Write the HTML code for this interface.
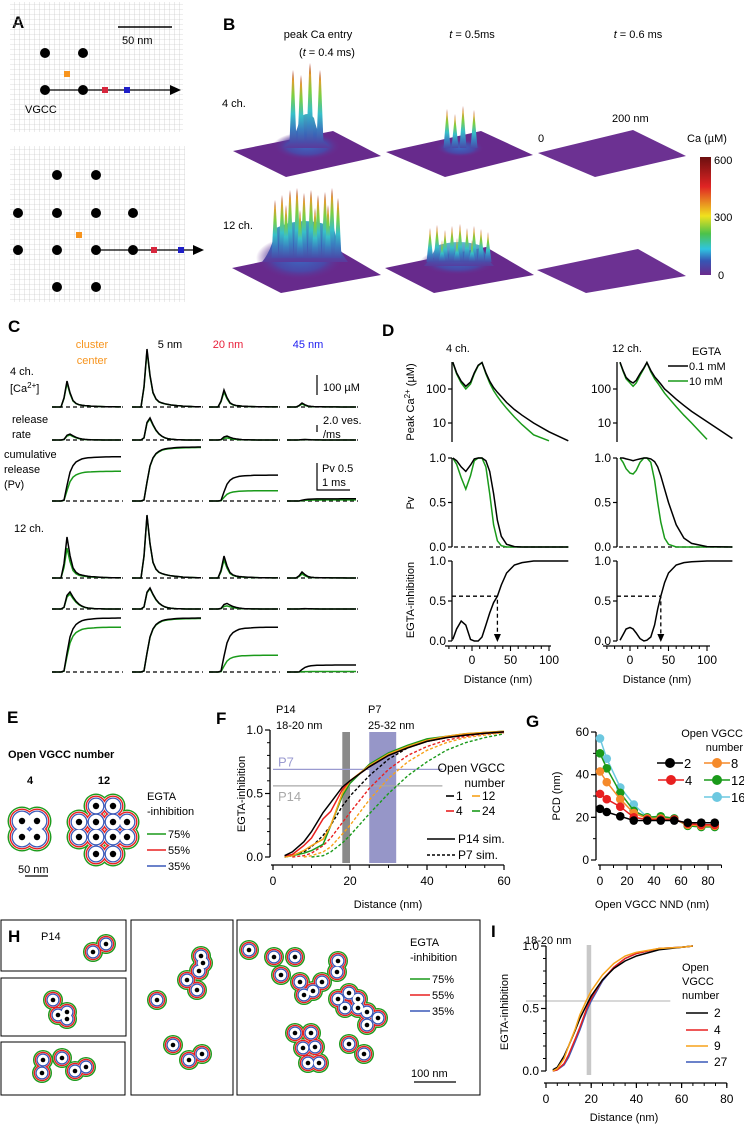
<!DOCTYPE html>
<html><head><meta charset="utf-8">
<style>
html,body{margin:0;padding:0;background:#fff;}
svg{display:block;font-family:"Liberation Sans",Arial,sans-serif;}
.t{font-size:11px;fill:#000;}
.L{font-size:17px;font-weight:bold;fill:#000;}
</style></head>
<body>
<svg id="fig" width="744" height="1125" viewBox="0 0 744 1125" xmlns="http://www.w3.org/2000/svg">
<defs>
<pattern id="grid" width="5" height="5" patternUnits="userSpaceOnUse"><path d="M5 0V5M0 5H5" stroke="#bdbdbd" stroke-width="0.6" fill="none"/></pattern>
<linearGradient id="cb" x1="0" y1="0" x2="0" y2="1">
<stop offset="0" stop-color="#6b0f0f"/><stop offset="0.25" stop-color="#e02424"/><stop offset="0.5" stop-color="#f0e21e"/><stop offset="0.65" stop-color="#4cc24a"/><stop offset="0.78" stop-color="#2fc4e0"/><stop offset="0.88" stop-color="#3656b4"/><stop offset="1" stop-color="#6b2a8c"/></linearGradient>
<linearGradient id="spk" x1="0" y1="1" x2="0" y2="0">
<stop offset="0" stop-color="#4a4aa8"/><stop offset="0.2" stop-color="#3a7fc0"/><stop offset="0.4" stop-color="#38c0c8"/><stop offset="0.65" stop-color="#7cd040"/><stop offset="0.85" stop-color="#e0a030"/><stop offset="1" stop-color="#a02020"/></linearGradient>
<linearGradient id="mb" x1="0" y1="1" x2="0" y2="0">
<stop offset="0" stop-color="#5a3a9c"/><stop offset="0.4" stop-color="#3a64b8"/><stop offset="1" stop-color="#40b0c0"/></linearGradient>
<radialGradient id="mound"><stop offset="0" stop-color="#3c68c0"/><stop offset="0.6" stop-color="#4a48a8"/><stop offset="1" stop-color="#6b2a8c" stop-opacity="0"/></radialGradient>
</defs>
<rect x="0" y="0" width="744" height="1125" fill="#fff"/>

<g>
<text class="L" x="12" y="28">A</text>
<rect x="10" y="2" width="173" height="130" fill="url(#grid)"/>
<rect x="10" y="146" width="175" height="156" fill="url(#grid)"/>
<line x1="118" y1="27" x2="172" y2="27" stroke="#000" stroke-width="1.5"/>
<text class="t" x="122" y="44" font-size="12">50 nm</text>
<g fill="#000">
<circle cx="45" cy="53" r="5"/><circle cx="83" cy="53" r="5"/><circle cx="45" cy="90" r="5"/><circle cx="83" cy="90" r="5"/></g>
<line x1="45" y1="90" x2="172" y2="90" stroke="#000" stroke-width="1.2"/>
<polygon points="170,85 181,90 170,95" fill="#000"/>
<rect x="64" y="71" width="6" height="6" fill="#f7941d"/>
<rect x="102" y="87" width="6" height="6" fill="#d7263d"/>
<rect x="124" y="87" width="6" height="6" fill="#1f1fc8"/>
<text class="t" x="25" y="113" font-size="12">VGCC</text>
<g fill="#000">
<circle cx="57" cy="175" r="5"/><circle cx="96" cy="175" r="5"/>
<circle cx="18" cy="213" r="5"/><circle cx="57" cy="213" r="5"/><circle cx="96" cy="213" r="5"/><circle cx="133" cy="213" r="5"/>
<circle cx="18" cy="250" r="5"/><circle cx="57" cy="250" r="5"/><circle cx="96" cy="250" r="5"/><circle cx="133" cy="250" r="5"/>
<circle cx="57" cy="287" r="5"/><circle cx="96" cy="287" r="5"/></g>
<line x1="96" y1="250" x2="195" y2="250" stroke="#000" stroke-width="1.2"/>
<polygon points="193,245 204,250 193,255" fill="#000"/>
<rect x="76" y="232" width="6" height="6" fill="#f7941d"/>
<rect x="151" y="247" width="6" height="6" fill="#d7263d"/>
<rect x="178" y="247" width="6" height="6" fill="#1f1fc8"/>
</g>

<g>
<text class="L" x="223" y="30">B</text>
<text class="t" x="318" y="38" text-anchor="middle" font-size="12">peak Ca entry</text>
<text class="t" x="327" y="56" text-anchor="middle" font-size="12">(<tspan font-style="italic">t</tspan> = 0.4 ms)</text>
<text class="t" x="472" y="38" text-anchor="middle" font-size="12"><tspan font-style="italic">t</tspan> = 0.5ms</text>
<text class="t" x="638" y="38" text-anchor="middle" font-size="12"><tspan font-style="italic">t</tspan> = 0.6 ms</text>
<text class="t" x="222" y="107" font-size="13">4 ch.</text>
<text class="t" x="223" y="229" font-size="13">12 ch.</text>
<text class="t" x="538" y="142" font-size="12">0</text>
<text class="t" x="612" y="122" font-size="12">200 nm</text>
<text class="t" x="687" y="142" font-size="12">Ca (µM)</text>
<rect x="700" y="157" width="11" height="118" fill="url(#cb)"/>
<text class="t" x="714" y="164" font-size="12">600</text>
<text class="t" x="714" y="221" font-size="12">300</text>
<text class="t" x="718" y="279" font-size="12">0</text>
<g id="surfaces"></g>
</g>

<g>
<text class="L" x="8" y="332">C</text>
<text class="t" x="92" y="348" text-anchor="middle" font-size="12" style="fill:#f7941d">cluster</text>
<text class="t" x="92" y="364" text-anchor="middle" font-size="12" style="fill:#f7941d">center</text>
<text class="t" x="170" y="348" text-anchor="middle" font-size="12">5 nm</text>
<text class="t" x="228" y="348" text-anchor="middle" font-size="12" style="fill:#e8203a">20 nm</text>
<text class="t" x="308" y="348" text-anchor="middle" font-size="12" style="fill:#1c1cf0">45 nm</text>
<text class="t" x="10" y="375" font-size="12">4 ch.</text>
<text class="t" x="10" y="392" font-size="12">[Ca<tspan font-size="8" dy="-4">2+</tspan><tspan dy="4">]</tspan></text>
<text class="t" x="12" y="423" font-size="12">release</text>
<text class="t" x="12" y="438" font-size="12">rate</text>
<text class="t" x="4" y="458" font-size="12">cumulative</text>
<text class="t" x="4" y="473" font-size="12">release</text>
<text class="t" x="4" y="488" font-size="12">(Pv)</text>
<text class="t" x="14" y="532" font-size="12">12 ch.</text>
<line x1="317" y1="375" x2="317" y2="395" stroke="#000" stroke-width="1.2"/>
<text class="t" x="323" y="391" font-size="12">100 µM</text>
<line x1="317" y1="425" x2="317" y2="432" stroke="#000" stroke-width="1.2"/>
<text class="t" x="323" y="424" font-size="12">2.0 ves.</text>
<text class="t" x="323" y="438" font-size="12">/ms</text>
<polyline points="317,463 317,490 350,490" fill="none" stroke="#000" stroke-width="1.2"/>
<text class="t" x="322" y="472" font-size="12">Pv 0.5</text>
<text class="t" x="322" y="486" font-size="12">1 ms</text>
</g>
<g id="pc"></g>

<g>
<text class="L" x="382" y="336">D</text>
<text class="t" x="446" y="352" font-size="12">4 ch.</text>
<text class="t" x="612" y="352" font-size="12">12 ch.</text>
<text class="t" x="692" y="355" font-size="12">EGTA</text>
<line x1="668" y1="366" x2="688" y2="366" stroke="#000" stroke-width="1.5"/>
<text class="t" x="689" y="370" font-size="12">0.1 mM</text>
<line x1="668" y1="381" x2="688" y2="381" stroke="#1a9a1a" stroke-width="1.5"/>
<text class="t" x="689" y="385" font-size="12">10 mM</text>
<text class="t" transform="translate(414,402) rotate(-90)" text-anchor="middle" font-size="12">Peak Ca<tspan font-size="8" dy="-4">2+</tspan><tspan dy="4"> (µM)</tspan></text>
<text class="t" transform="translate(414,503) rotate(-90)" text-anchor="middle" font-size="12">Pv</text>
<text class="t" transform="translate(414,600) rotate(-90)" text-anchor="middle" font-size="12">EGTA-inhibition</text>
<text class="t" x="498" y="683" text-anchor="middle" font-size="12">Distance (nm)</text>
<text class="t" x="657" y="683" text-anchor="middle" font-size="12">Distance (nm)</text>
</g>
<g id="pd"></g>

<g>
<text class="L" x="7" y="723">E</text>
<text class="t" x="8" y="758" font-size="12" font-weight="bold">Open VGCC number</text>
<text class="t" x="30" y="784" font-size="12" font-weight="bold" text-anchor="middle">4</text>
<text class="t" x="104" y="784" font-size="12" font-weight="bold" text-anchor="middle">12</text>
<g id="eclusters"></g>
<text class="t" x="147" y="800" font-size="12">EGTA</text>
<text class="t" x="147" y="815" font-size="12">-inhibition</text>
<line x1="147" y1="834" x2="166" y2="834" stroke="#1a9a1a" stroke-width="1.5"/>
<text class="t" x="168" y="838" font-size="12">75%</text>
<line x1="147" y1="850" x2="166" y2="850" stroke="#e82020" stroke-width="1.5"/>
<text class="t" x="168" y="854" font-size="12">55%</text>
<line x1="147" y1="866" x2="166" y2="866" stroke="#3a58b8" stroke-width="1.5"/>
<text class="t" x="168" y="870" font-size="12">35%</text>
<text class="t" x="18" y="873" font-size="12">50 nm</text>
<line x1="25" y1="876" x2="48" y2="876" stroke="#000" stroke-width="1.3"/>
</g>

<g>
<text class="L" x="216" y="724">F</text>
<text class="t" x="276" y="713" font-size="12">P14</text>
<text class="t" x="276" y="729" font-size="12">18-20 nm</text>
<text class="t" x="368" y="713" font-size="12">P7</text>
<text class="t" x="368" y="729" font-size="12">25-32 nm</text>
<text class="t" transform="translate(245,794) rotate(-90)" text-anchor="middle" font-size="12">EGTA-inhibition</text>
<text class="t" x="388" y="908" text-anchor="middle" font-size="12">Distance (nm)</text>
</g>
<g id="pf"></g>

<g>
<text class="L" x="526" y="727">G</text>
<text class="t" transform="translate(560,796) rotate(-90)" text-anchor="middle" font-size="12">PCD (nm)</text>
<text class="t" x="652" y="908" text-anchor="middle" font-size="12">Open VGCC NND (nm)</text>
<text class="t" x="743" y="737" text-anchor="end" font-size="12">Open VGCC</text>
<text class="t" x="743" y="751" text-anchor="end" font-size="12">number</text>
</g>
<g id="pg"></g>

<g>
<g id="hclusters"></g>
<rect x="1" y="920" width="125" height="51" fill="none" stroke="#000" stroke-width="1"/>
<rect x="1" y="978" width="125" height="58" fill="none" stroke="#000" stroke-width="1"/>
<rect x="1" y="1042" width="124" height="53" fill="none" stroke="#000" stroke-width="1"/>
<rect x="131" y="920" width="102" height="175" fill="none" stroke="#000" stroke-width="1"/>
<rect x="237" y="920" width="243" height="175" fill="none" stroke="#000" stroke-width="1"/>
<text class="L" x="8" y="942">H</text>
<text class="t" x="41" y="940" font-size="12">P14</text>
<text class="t" x="410" y="946" font-size="12">EGTA</text>
<text class="t" x="410" y="961" font-size="12">-inhibition</text>
<line x1="410" y1="979" x2="430" y2="979" stroke="#1a9a1a" stroke-width="1.5"/>
<text class="t" x="432" y="983" font-size="12">75%</text>
<line x1="410" y1="995" x2="430" y2="995" stroke="#e82020" stroke-width="1.5"/>
<text class="t" x="432" y="999" font-size="12">55%</text>
<line x1="410" y1="1011" x2="430" y2="1011" stroke="#3a58b8" stroke-width="1.5"/>
<text class="t" x="432" y="1015" font-size="12">35%</text>
<text class="t" x="411" y="1077" font-size="12">100 nm</text>
<line x1="414" y1="1082" x2="456" y2="1082" stroke="#000" stroke-width="1.3"/>
</g>

<g>
<text class="L" x="491" y="937">I</text>
<text class="t" x="525" y="944" font-size="12">18-20 nm</text>
<text class="t" transform="translate(508,1012) rotate(-90)" text-anchor="middle" font-size="12">EGTA-inhibition</text>
<text class="t" x="624" y="1121" text-anchor="middle" font-size="12">Distance (nm)</text>
<text class="t" x="682" y="971" font-size="12">Open</text>
<text class="t" x="682" y="985" font-size="12">VGCC</text>
<text class="t" x="682" y="999" font-size="12">number</text>
</g>
<g id="pi"></g>
</svg>

<script>
// ---------- DATA ----------
const cShapeCa = [0,0,0,0,0.35,1,0.55,0.25,0.14,0.09,0.07,0.055,0.045,0.035,0.03,0.025,0.02,0.015,0.012,0.01,0.008,0.006,0.005,0.004];
const cShapeRate = [0,0,0,0,0.1,0.8,1,0.7,0.45,0.28,0.17,0.1,0.06,0.04,0.025,0.015,0.01,0.005,0,0,0,0,0,0];
const cShapeCum = [0,0,0,0,0.02,0.35,0.65,0.8,0.88,0.92,0.95,0.965,0.975,0.98,0.985,0.99,0.992,0.994,0.996,0.997,0.998,0.999,1,1];
const cColumns = ["cluster center","5 nm","20 nm","45 nm"];
const ca4Black = [130,290,85,20], ca4Green = [120,280,75,15];
const rate4Black = [1.7,6.3,1.1,0.15], rate4Green = [1.4,6.0,0.6,0.1];
const cum4Black = [0.82,1.0,0.48,0.04], cum4Green = [0.55,0.99,0.19,0.02];
const ca12Black = [205,315,110,30], ca12Green = [150,310,90,20];
const rate12Black = [4.9,6.0,1.6,0.1], rate12Green = [4.3,5.8,0.9,0.05];
const cum12Black = [1.0,1.0,0.83,0.13], cum12Green = [0.83,0.99,0.31,0.01];

const dDistL = [-25,-20,-14,-8,-2,3,8,13,18,23,28,33,38,45,55,65,80,100,125];
const dCaBlackL = [620,300,170,120,160,300,500,600,300,170,110,80,60,40,25,17,10,5.5,3];
const dCaGreenL = [600,280,150,100,140,280,480,600,280,150,90,60,42,27,15,9,4.5,3];
const dPvBlackL = [1,0.97,0.9,0.85,0.92,0.99,1,1,0.97,0.85,0.6,0.3,0.12,0.03,0.005,0,0,0,0];
const dPvGreenL = [1,0.93,0.78,0.65,0.8,0.97,1,1,0.9,0.6,0.25,0.07,0.015,0,0,0,0,0,0];
const dEgtaL = [0.02,0.15,0.25,0.2,0.02,0,0,0.05,0.2,0.35,0.48,0.56,0.7,0.85,0.95,0.98,1,1,1];
const dDistR = [-13,-9,-5,0,4,8,13,18,22,27,32,36,40,45,50,60,70,80,100,133];
const dCaBlackR = [620,350,220,170,150,180,280,420,600,350,230,180,140,100,80,50,33,22,11,3.5];
const dCaGreenR = [600,330,200,150,120,150,250,400,600,320,200,150,110,75,55,30,17,10,3.3];
const dPvBlackR = [1,1,0.99,0.98,0.97,0.98,0.99,1,1,0.99,0.96,0.9,0.8,0.65,0.5,0.25,0.1,0.04,0.005,0];
const dPvGreenR = [1,0.95,0.88,0.83,0.82,0.86,0.95,1,1,0.95,0.75,0.5,0.28,0.1,0.03,0,0,0,0,0];
const dEgtaR = [0.01,0.08,0.15,0.17,0.15,0.1,0.03,0,0.01,0.05,0.2,0.4,0.56,0.73,0.85,0.95,0.98,0.99,1,1];
const dHalfL = 33, dHalfR = 40, dHalfLevel = 0.56;
const dXTicks = [0,50,100];

const fDist = [3,5,8,10,13,15,18,20,25,30,35,40,45,50,55,60];
const fP14n1 = [0.01,0.04,0.12,0.2,0.35,0.43,0.55,0.6,0.71,0.8,0.86,0.91,0.94,0.96,0.975,0.985];
const fP14n4 = [0.01,0.02,0.09,0.15,0.3,0.36,0.53,0.6,0.71,0.8,0.86,0.91,0.94,0.96,0.975,0.985];
const fP14n12 = [0,0.01,0.05,0.09,0.14,0.25,0.5,0.6,0.72,0.81,0.87,0.92,0.95,0.97,0.98,0.99];
const fP14n24 = [0,0.01,0.03,0.05,0.1,0.25,0.48,0.58,0.73,0.82,0.88,0.93,0.95,0.97,0.98,0.99];
const fP7n1 = [0,0.01,0.04,0.08,0.17,0.25,0.4,0.48,0.64,0.77,0.86,0.91,0.94,0.96,0.975,0.985];
const fP7n4 = [0,0,0.01,0.03,0.09,0.15,0.27,0.35,0.54,0.69,0.8,0.87,0.92,0.95,0.97,0.98];
const fP7n12 = [0,0,0,0.01,0.04,0.08,0.18,0.25,0.45,0.62,0.75,0.84,0.9,0.94,0.96,0.98];
const fP7n24 = [0,0,0,0,0.01,0.04,0.11,0.17,0.34,0.5,0.64,0.75,0.84,0.9,0.94,0.97];
const fP14Band = [18,20], fP7Band = [25,32];
const fP7Level = 0.69, fP14Level = 0.56;
const fXTicks = [0,20,40,60], fYTicks = [0,0.5,1.0];

const gNND = [0,5,15,25,35,45,55,65,75,85];
const gN2 = [24,22.5,20.5,18.5,18.5,18.5,18.5,17.5,17.5,17.5];
const gN4 = [31,28.5,25,20,19,19,19,17,16.5,16.5];
const gN8 = [41.5,36.5,28.5,22,19.5,19.5,19,16.5,16,16];
const gN12 = [50,43,31.5,23,20,20.5,19.5,16,15.5,15.5];
const gN16 = [57,47.5,34,26,20,20,19.5,16,15.5,15.5];
const gXTicks = [0,20,40,60,80], gYTicks = [0,20,40,60];

const iDist = [3,5,8,10,13,15,18,20,25,30,35,40,50,60,65];
const iN2 = [0.01,0.03,0.12,0.2,0.33,0.42,0.53,0.6,0.73,0.82,0.88,0.92,0.97,0.99,1];
const iN4 = [0,0.01,0.06,0.13,0.26,0.35,0.5,0.58,0.73,0.83,0.9,0.94,0.98,0.99,1];
const iN9 = [0,0.02,0.1,0.2,0.34,0.45,0.57,0.64,0.77,0.86,0.92,0.95,0.98,0.99,1];
const iN27 = [0,0.01,0.05,0.11,0.24,0.33,0.48,0.56,0.72,0.83,0.9,0.94,0.98,0.99,1];
const iBand = [18,20], iLevel = 0.56;
const iXTicks = [0,20,40,60,80], iYTicks = [0,0.5,1.0];

// ---------- HELPERS ----------
const NS = 'http://www.w3.org/2000/svg';
function mk(tag, attrs, parent){
  const e = document.createElementNS(NS, tag);
  for (const k in attrs) e.setAttribute(k, attrs[k]);
  parent.appendChild(e);
  return e;
}
function txt(parent, x, y, s, anchor){
  const e = mk('text', {x:x, y:y, 'font-size':12, 'text-anchor':anchor||'middle'}, parent);
  e.textContent = s;
  return e;
}
function pts(xs, ys, sx, sy){
  let out = [];
  for (let i=0;i<xs.length && i<ys.length;i++) out.push(sx(xs[i]).toFixed(1)+','+sy(ys[i]).toFixed(1));
  return out.join(' ');
}
function trimPts(xs, ys, sx, sy){
  let s = 0;
  while (s+1<ys.length && ys[s+1]===0) s++;
  return pts(xs.slice(s), ys.slice(s), sx, sy);
}
const BLACK='#000', GREEN='#1a9a1a';

// ---------- PANEL B ----------
(function(){
  const g = document.getElementById('surfaces');
  const quads = [
    [[233,151],[333,131],[381,156],[286,177]],
    [[386,152],[481,131],[533,155],[445,177]],
    [[538,153],[633,130],[686,156],[595,177]],
    [[232,268],[333,247],[381,275],[281,293]],
    [[385,268],[486,247],[534,275],[434,293]],
    [[537,270],[638,249],[686,276],[586,293]]
  ];
  quads.forEach(function(q, i){
    const p = mk('polygon', {points:q.map(function(a){return a.join(',');}).join(' '), fill: i%3===2 ? '#6c3192' : '#672a8c'}, g);
    
    
  });
  const mounds = [[307,146,34,14],[460,148,24,9],[300,258,44,22],[458,262,38,13]];
  mounds.forEach(function(m, i){
    const e = mk('ellipse', {cx:m[0], cy:m[1], rx:m[2], ry:m[3], fill:'url(#mound)'}, g);
    
    
  });
  const b1 = mk('path', {d:'M284,148 Q296,138 300,118 Q307,110 314,118 Q318,138 330,148 Z', fill:'url(#mb)'}, g);
  
  
  const b2 = mk('path', {d:'M262,262 Q272,250 276,228 Q305,214 334,228 Q338,250 348,262 Z', fill:'url(#mb)'}, g);
  
  
  const b3 = mk('path', {d:'M424,266 Q432,258 436,246 Q459,238 482,246 Q486,258 494,266 Z', fill:'url(#mb)', opacity:0.85}, g);
  
  
  const spikes = [
    [293,70,143],[301,75,143],[310,63,143],[320,70,143],
    [447,109,148],[455,114,148],[463,106,148],[474,110,148],
    [275,200,258],[282,195,258],[290,190,258],[297,188,258],[304,193,258],[311,190,258],[318,195,258],[325,192,258],[332,188,258],[338,198,258],[286,205,258],[300,210,258],[315,208,258],[328,205,258],
    [430,228,262],[437,225,262],[445,230,262],[452,226,262],[460,224,262],[467,228,262],[474,226,262],[481,229,262],[488,232,262],[442,240,262],[457,238,262],[472,240,262]
  ];
  spikes.forEach(function(s){
    const p = mk('polygon', {points:(s[0]-3.5)+','+s[2]+' '+(s[0]-1)+','+(s[1]+10)+' '+s[0]+','+s[1]+' '+(s[0]+1)+','+(s[1]+10)+' '+(s[0]+3.5)+','+s[2], fill:'url(#spk)'}, g);
    
    
  });
})();

// ---------- PANEL C ----------
(function(){
  const g = document.getElementById('pc');
  const colX = [52,132,209,287];
  const step = 3;
  function row(baseY, scale, shape, blk, grn, name){
    for (let c=0;c<4;c++){
      const x0 = colX[c];
      const base = mk('line', {x1:x0, y1:baseY, x2:x0+71, y2:baseY, stroke:'#000', 'stroke-width':1.2, 'stroke-dasharray':'4,3'}, g);
      
      
      [[grn,GREEN],[blk,BLACK]].forEach(function(pair){
        const amp = pair[0][c];
        const xs = shape.map(function(_,i){return i;});
        const pl = mk('polyline', {points:pts(xs, shape, function(i){return x0+i*step;}, function(v){return baseY - v*amp*scale;}), fill:'none', stroke:pair[1], 'stroke-width':1.5}, g);
        
        
      });
    }
  }
  row(407, 0.2, cShapeCa, ca4Black, ca4Green, 'c-4ch-ca');
  row(440, 3.5, cShapeRate, rate4Black, rate4Green, 'c-4ch-rate');
  row(501, 54, cShapeCum, cum4Black, cum4Green, 'c-4ch-cum');
  row(578, 0.2, cShapeCa, ca12Black, ca12Green, 'c-12ch-ca');
  row(609, 3.5, cShapeRate, rate12Black, rate12Green, 'c-12ch-rate');
  row(672, 54, cShapeCum, cum12Black, cum12Green, 'c-12ch-cum');
})();

// ---------- PANEL D ----------
(function(){
  const g = document.getElementById('pd');
  const panels = [
    {x0:472, yAx:452, axL:445, axR:551, side:'left', dist:dDistL, caB:dCaBlackL, caG:dCaGreenL, pvB:dPvBlackL, pvG:dPvGreenL, eg:dEgtaL, half:dHalfL},
    {x0:630, yAx:617, axL:603, axR:710, side:'right', dist:dDistR, caB:dCaBlackR, caG:dCaGreenR, pvB:dPvBlackR, pvG:dPvGreenR, eg:dEgtaR, half:dHalfR}
  ];
  const yCa = function(v){return 389 - 34*(Math.log10(v)-2);};
  const yPv = function(v){return 547 - 89*v;};
  const yEg = function(v){return 641 - 80*v;};
  panels.forEach(function(P){
    const sx = function(d){return P.x0 + 0.77*d;};
    [[362,442],[458,547],[561,641]].forEach(function(r, i){
      const a = mk('line', {x1:P.yAx, y1:r[0], x2:P.yAx, y2:r[1], stroke:'#000', 'stroke-width':1.3}, g);
      
      
    });
    [100,10].forEach(function(v){
      const t = mk('line', {x1:P.yAx-4, y1:yCa(v), x2:P.yAx, y2:yCa(v), stroke:'#000', 'stroke-width':1.2}, g);
      
      
      const l = txt(g, P.yAx-6, yCa(v)+4, String(v), 'end');
      
      
    });
    [0,0.5,1.0].forEach(function(v){
      const t = mk('line', {x1:P.yAx-4, y1:yPv(v), x2:P.yAx, y2:yPv(v), stroke:'#000', 'stroke-width':1.2}, g);
      
      
      const l = txt(g, P.yAx-6, yPv(v)+4, v.toFixed(1), 'end');
      
      
      const t2 = mk('line', {x1:P.yAx-4, y1:yEg(v), x2:P.yAx, y2:yEg(v), stroke:'#000', 'stroke-width':1.2}, g);
      
      
      const l2 = txt(g, P.yAx-6, yEg(v)+4, v.toFixed(1), 'end');
      
      
    });
    const xa = mk('line', {x1:P.axL, y1:646, x2:P.axR, y2:646, stroke:'#000', 'stroke-width':1.3}, g);
    
    
    for (let d=-30; d<=100; d+=10){
      const big = dXTicks.indexOf(d) >= 0;
      const t = mk('line', {x1:sx(d), y1:646, x2:sx(d), y2:646+(big?5:3), stroke:'#000', 'stroke-width':1.1}, g);
      
      
    }
    dXTicks.forEach(function(d){
      const l = txt(g, sx(d), 664, String(d));
      
      
    });
    const pb = mk('line', {x1:P.yAx+2, y1:yPv(0), x2:sx(P.dist[P.dist.length-1]), y2:yPv(0), stroke:'#000', 'stroke-width':1.2, 'stroke-dasharray':'4,3'}, g);
    
    
    const c1 = mk('polyline', {points:pts(P.dist, P.caG, sx, yCa), fill:'none', stroke:GREEN, 'stroke-width':1.5}, g);
    
    
    const c2 = mk('polyline', {points:pts(P.dist, P.caB, sx, yCa), fill:'none', stroke:BLACK, 'stroke-width':1.5}, g);
    
    
    const c3 = mk('polyline', {points:pts(P.dist, P.pvG, sx, yPv), fill:'none', stroke:GREEN, 'stroke-width':1.5}, g);
    
    
    const c4 = mk('polyline', {points:pts(P.dist, P.pvB, sx, yPv), fill:'none', stroke:BLACK, 'stroke-width':1.5}, g);
    
    
    const c5 = mk('polyline', {points:pts(P.dist, P.eg, sx, yEg), fill:'none', stroke:BLACK, 'stroke-width':1.5}, g);
    
    
    const h = mk('polyline', {points:P.yAx+','+yEg(dHalfLevel)+' '+sx(P.half)+','+yEg(dHalfLevel)+' '+sx(P.half)+','+(yEg(0)-6), fill:'none', stroke:'#000', 'stroke-width':1.3, 'stroke-dasharray':'4,3'}, g);
    
    
    const ah = mk('polygon', {points:(sx(P.half)-3.5)+','+(yEg(0)-7)+' '+(sx(P.half)+3.5)+','+(yEg(0)-7)+' '+sx(P.half)+','+(yEg(0)+1)}, g);
    
    
  });
})();

// ---------- E & H clusters ----------
function cluster(g, dots, radii, dotR, name){
  const layers = [[radii[0],'#1a9a1a'],[radii[0]-1.4,'#fff'],[radii[1],'#e82020'],[radii[1]-1.4,'#fff'],[radii[2],'#3a58b8'],[radii[2]-1.3,'#fff']];
  layers.forEach(function(L){
    dots.forEach(function(d){
      const c = mk('circle', {cx:d[0], cy:d[1], r:L[0], fill:L[1]}, g);
      
      
    });
  });
  dots.forEach(function(d){
    const c = mk('circle', {cx:d[0], cy:d[1], r:dotR, fill:'#000'}, g);
    
    
  });
}
(function(){
  const g = document.getElementById('eclusters');
  cluster(g, [[22,821],[37,821],[22,837],[37,837]], [14.5,12.5,10.5], 3.2, 'e-cluster-4');
  cluster(g, [[96,806],[113,806],[79,822],[96,822],[113,822],[127,822],[79,837],[96,837],[113,837],[127,837],[96,854],[113,854]], [12.5,10.5,8.5], 3.2, 'e-cluster-12');
  const h = document.getElementById('hclusters');
  const groups = [
    [[93,952],[106,944]],
    [[53,1000],[58,1015],[67,1012],[67,1019]],
    [[43,1060],[42,1073],[62,1058],[75,1071],[86,1067]],
    [[157,1000]],
    [[201,956],[203,963],[199,971],[187,980],[197,990]],
    [[173,1045]],[[189,1060],[202,1054]],
    [[249,950]],[[274,957],[295,957]],[[281,975]],
    [[338,961],[337,972],[300,982],[322,982],[313,991],[304,995],[349,993],[338,999],[358,999],[345,1008],[358,1008],[367,1012],[378,1018],[367,1025]],
    [[295,1033],[311,1033],[303,1048],[315,1047],[308,1063],[319,1063]],
    [[349,1044],[364,1054]]
  ];
  groups.forEach(function(gr, i){ cluster(h, gr, [10,8.3,6.6], 2.3, 'h-cluster-' + (i+1)); });
})();

// ---------- generic axes ----------
function axes(g, p, name){
  const ya = mk('line', {x1:p.yAx, y1:p.y(p.yMax), x2:p.yAx, y2:p.y(p.yMin), stroke:'#000', 'stroke-width':1.3}, g);
  
  
  const xa = mk('line', {x1:p.x(p.xMin)-2, y1:p.xAy, x2:p.x(p.xMax), y2:p.xAy, stroke:'#000', 'stroke-width':1.3}, g);
  
  
  for (let v=p.yMin; v<=p.yMax+1e-9; v+=p.yMinor){
    const t = mk('line', {x1:p.yAx-3, y1:p.y(v), x2:p.yAx, y2:p.y(v), stroke:'#000', 'stroke-width':1}, g);
    
    
  }
  p.yTicks.forEach(function(v){
    const t = mk('line', {x1:p.yAx-5, y1:p.y(v), x2:p.yAx, y2:p.y(v), stroke:'#000', 'stroke-width':1.2}, g);
    
    
    const l = txt(g, p.yAx-7, p.y(v)+4, p.yFmt(v), 'end');
    
    
  });
  for (let v=p.xMin; v<=p.xMax+1e-9; v+=p.xMinor){
    const t = mk('line', {x1:p.x(v), y1:p.xAy, x2:p.x(v), y2:p.xAy+3, stroke:'#000', 'stroke-width':1}, g);
    
    
  }
  p.xTicks.forEach(function(v){
    const t = mk('line', {x1:p.x(v), y1:p.xAy, x2:p.x(v), y2:p.xAy+5, stroke:'#000', 'stroke-width':1.2}, g);
    
    
    const l = txt(g, p.x(v), p.xAy+20, String(v));
    
    
  });
}

// ---------- PANEL F ----------
(function(){
  const g = document.getElementById('pf');
  const x = function(d){return 273 + 3.85*d;};
  const y = function(v){return 857 - 127*v;};
  const b1 = mk('rect', {x:x(fP14Band[0]), y:y(1)+2, width:x(fP14Band[1])-x(fP14Band[0]), height:y(0)-y(1)+4, fill:'#8a8a8a'}, g);
  
  
  const b2 = mk('rect', {x:x(fP7Band[0]), y:y(1)+2, width:x(fP7Band[1])-x(fP7Band[0]), height:y(0)-y(1)+4, fill:'#9696c8'}, g);
  
  
  const h1 = mk('line', {x1:x(0), y1:y(fP7Level), x2:x(44), y2:y(fP7Level), stroke:'#9a9ad0', 'stroke-width':1.3}, g);
  
  
  const h2 = mk('line', {x1:x(0), y1:y(fP14Level), x2:x(44), y2:y(fP14Level), stroke:'#a8a8a8', 'stroke-width':1.3}, g);
  
  
  const lp7 = mk('text', {x:x(0)+5, y:y(fP7Level)-3, 'font-size':13, fill:'#9a9ad0'}, g);
  lp7.textContent = 'P7';
  
  
  const lp14 = mk('text', {x:x(0)+5, y:y(fP14Level)+15, 'font-size':13, fill:'#a8a8a8'}, g);
  lp14.textContent = 'P14';
  
  
  axes(g, {yAx:270, xAy:865, x:x, y:y, xMin:0, xMax:60, yMin:0, yMax:1, xMinor:5, yMinor:0.1, xTicks:fXTicks, yTicks:fYTicks, yFmt:function(v){return v.toFixed(1);}}, 'f');
  const cols = ['#000','#e82020','#f7a21a','#1a9a1a'];
  const p7 = [fP7n1,fP7n4,fP7n12,fP7n24], p14 = [fP14n1,fP14n4,fP14n12,fP14n24];
  const nm = ['1','4','12','24'];
  p7.forEach(function(s, i){
    const l = mk('polyline', {points:trimPts(fDist, s, x, y), fill:'none', stroke:cols[i], 'stroke-width':1.4, 'stroke-dasharray':'3,2'}, g);
    
    
  });
  [3,2,1,0].forEach(function(i){
    const l = mk('polyline', {points:trimPts(fDist, p14[i], x, y), fill:'none', stroke:cols[i], 'stroke-width':1.5}, g);
    
    
  });
  const lt = txt(g, 505, 772, 'Open VGCC', 'end');
  
  
  const lt2 = txt(g, 505, 787, 'number', 'end');
  
  
  const pos = [[446,800],[446,815],[472,800],[472,815]];
  [0,1,2,3].forEach(function(i){
    const p = pos[i];
    const l = mk('line', {x1:p[0], y1:p[1]-4, x2:p[0]+8, y2:p[1]-4, stroke:cols[i], 'stroke-width':1.6}, g);
    
    
    const t = txt(g, p[0]+10, p[1], nm[i], 'start');
    
    
  });
  const s1 = mk('line', {x1:427, y1:839, x2:455, y2:839, stroke:'#000', 'stroke-width':1.5}, g);
  
  
  const s1t = txt(g, 458, 843, 'P14 sim.', 'start');
  
  
  const s2 = mk('line', {x1:427, y1:855, x2:455, y2:855, stroke:'#000', 'stroke-width':1.5, 'stroke-dasharray':'3,2'}, g);
  
  
  const s2t = txt(g, 458, 859, 'P7 sim.', 'start');
  
  
})();

// ---------- PANEL G ----------
(function(){
  const g = document.getElementById('pg');
  const x = function(n){return 600 + 1.35*n;};
  const y = function(p){return 860 - 2.133*p;};
  axes(g, {yAx:596, xAy:865, x:x, y:y, xMin:0, xMax:90, yMin:0, yMax:60, xMinor:10, yMinor:10, xTicks:gXTicks, yTicks:gYTicks, yFmt:function(v){return String(v);}}, 'g');
  const series = [[gN16,'#6cc8e0','16'],[gN12,'#1a9a1a','12'],[gN8,'#f58a2a','8'],[gN4,'#e82020','4'],[gN2,'#000','2']];
  series.forEach(function(s){
    const l = mk('polyline', {points:pts(gNND, s[0], x, y), fill:'none', stroke:s[1], 'stroke-width':1.5}, g);
    
    
    gNND.forEach(function(n, i){
      const c = mk('circle', {cx:x(n), cy:y(s[0][i]), r:4.3, fill:s[1]}, g);
      
      
    });
  });
  const leg = [[670,763,'#000','2'],[717,763,'#f58a2a','8'],[671,780,'#e82020','4'],[717,780,'#1a9a1a','12'],[717,797,'#6cc8e0','16']];
  leg.forEach(function(L){
    const l = mk('line', {x1:L[0]-13, y1:L[1], x2:L[0]+13, y2:L[1], stroke:L[2], 'stroke-width':1.6}, g);
    
    
    const c = mk('circle', {cx:L[0], cy:L[1], r:5, fill:L[2]}, g);
    
    
    const t = txt(g, L[0]+14, L[1]+5, L[3], 'start');
    t.setAttribute('font-size', '13');
    
    
  });
})();

// ---------- PANEL I ----------
(function(){
  const g = document.getElementById('pi');
  const x = function(d){return 546 + 2.26*d;};
  const y = function(v){return 1071 - 125*v;};
  const b = mk('rect', {x:x(iBand[0]), y:y(1)-1, width:x(iBand[1])-x(iBand[0]), height:y(0)-y(1)+5, fill:'#c8c8c8'}, g);
  
  
  const h = mk('line', {x1:x(0)-20, y1:y(iLevel), x2:x(55), y2:y(iLevel), stroke:'#c0c0c0', 'stroke-width':1.3}, g);
  
  
  axes(g, {yAx:546, xAy:1083, x:x, y:y, xMin:0, xMax:80, yMin:0, yMax:1, xMinor:5, yMinor:0.1, xTicks:iXTicks, yTicks:iYTicks, yFmt:function(v){return v.toFixed(1);}}, 'i');
  const series = [[iN27,'#3a58b8','27'],[iN4,'#e82020','4'],[iN2,'#000','2'],[iN9,'#f7a21a','9']];
  series.forEach(function(s){
    const l = mk('polyline', {points:trimPts(iDist, s[0], x, y), fill:'none', stroke:s[1], 'stroke-width':1.5}, g);
    
    
  });
  const leg = [[1013,'#000','2'],[1030,'#e82020','4'],[1046,'#f7a21a','9'],[1062,'#3a58b8','27']];
  leg.forEach(function(L){
    const l = mk('line', {x1:686, y1:L[0], x2:708, y2:L[0], stroke:L[1], 'stroke-width':1.5}, g);
    
    
    const t = txt(g, 714, L[0]+4, L[2], 'start');
    
    
  });
})();
</script>
</body></html>
